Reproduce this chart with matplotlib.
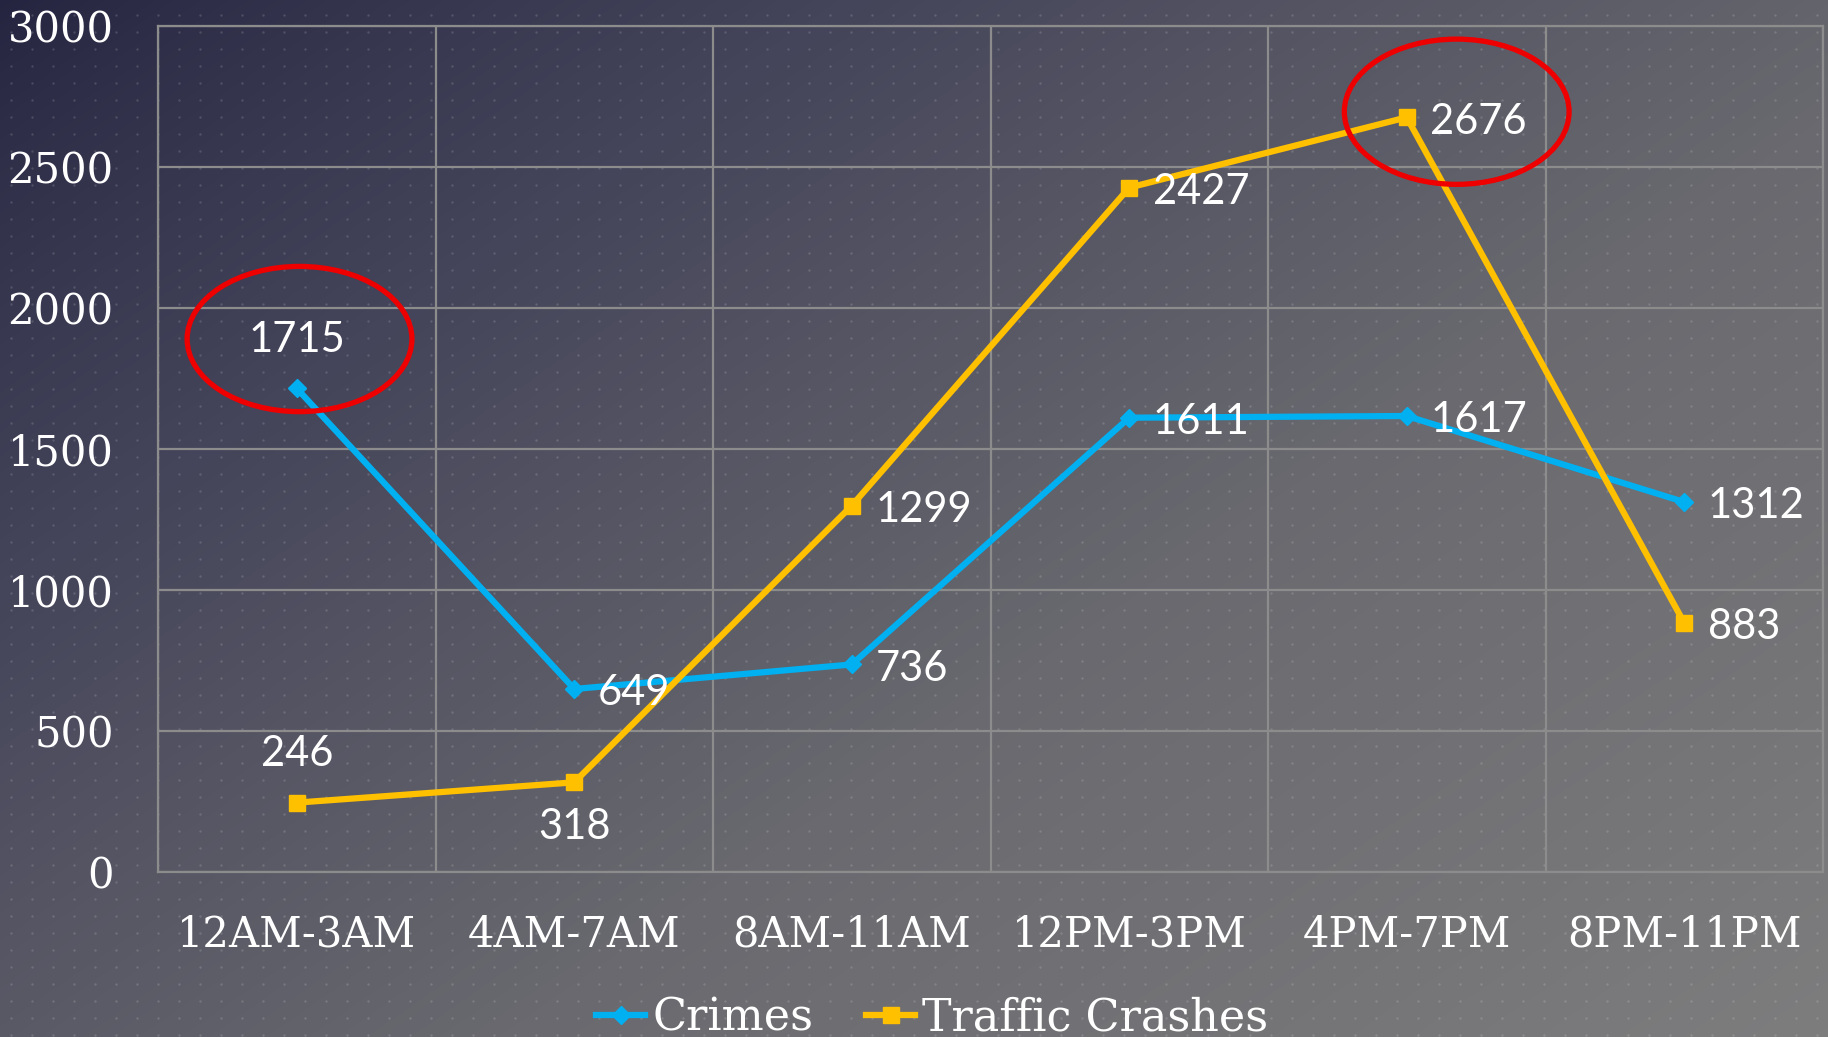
import numpy as np
import matplotlib
matplotlib.use("Agg")
import matplotlib.pyplot as plt
from matplotlib.patches import Ellipse
from matplotlib.colors import LinearSegmentedColormap

periods = ['12AM-3AM', '4AM-7AM', '8AM-11AM', '12PM-3PM', '4PM-7PM', '8PM-11PM']
crimes = [1715, 649, 736, 1611, 1617, 1312]
crashes = [246, 318, 1299, 2427, 2676, 883]
yticks = [0, 500, 1000, 1500, 2000, 2500, 3000]

# label placement per point: 'r' right, 'u' above, 'd' below
crime_pos = ['u', 'r', 'r', 'r', 'r', 'r']
crash_pos = ['u', 'd', 'r', 'r', 'r', 'r']

# highlighted points (series, index) and ellipse shift from the point
highlights = [(crimes, 0, 0.01, 175), (crashes, 4, 0.18, 20)]

blue = '#00B0F0'
gold = '#FFC000'
serif = 'DejaVu Serif'
sans = 'Lato'

fig = plt.figure(figsize=(18.28, 10.37), dpi=100)

# background gradient + dot texture
bg = fig.add_axes([0, 0, 1, 1], zorder=-10)
h, w = 1037, 1828
yy, xx = np.mgrid[0:h, 0:w]
t = (xx / w * 0.55 + yy / h * 0.45)
t = np.clip(t, 0, 1) ** 0.8
cmap = LinearSegmentedColormap.from_list('bg', ['#242440', '#44445a', '#69696f', '#7d7d7e'])
bg.imshow(t, cmap=cmap, aspect='auto', extent=[0, w, h, 0], vmin=0, vmax=1)
dx, dy = np.meshgrid(np.arange(11, w, 21), np.arange(15, h, 17))
bg.scatter(dx.ravel(), dy.ravel(), s=3, c='white', alpha=0.15, linewidths=0)
bg.set_xlim(0, w)
bg.set_ylim(h, 0)
bg.axis('off')

ax = fig.add_axes([158 / 1828, 165 / 1037, 1665 / 1828, 846 / 1037])
ax.set_facecolor('none')
x = np.arange(len(periods))

ax.plot(x, crimes, color=blue, lw=4.5, marker='D', ms=9, label='Crimes', zorder=3)
ax.plot(x, crashes, color=gold, lw=4.5, marker='s', ms=11, label='Traffic Crashes', zorder=3)

ax.set_xlim(-0.5, len(periods) - 0.5)
ax.set_ylim(0, 3000)
ax.set_yticks(yticks)
ax.set_xticks(x)
ax.set_xticklabels(periods, fontfamily=serif, fontsize=30, color='white')
ax.set_yticklabels([str(v) for v in yticks], fontfamily=serif, fontsize=30, color='white')
ax.set_xticks(np.arange(-0.5, len(periods)), minor=True)
ax.tick_params(axis='both', which='both', length=0)
ax.tick_params(axis='x', pad=30)
ax.tick_params(axis='y', pad=32)
ax.grid(True, axis='y', color='#8c8c8c', lw=1.6)
ax.grid(True, axis='x', which='minor', color='#8c8c8c', lw=1.6)
for s in ax.spines.values():
    s.set_color('#8c8c8c')
    s.set_linewidth(1.6)


def put_labels(vals, pos):
    for i, (v, p) in enumerate(zip(vals, pos)):
        if p == 'r':
            off, ha = (17, -3), 'left'
        elif p == 'u':
            off, ha = (0, 35), 'center'
        else:
            off, ha = (0, -32), 'center'
        ax.annotate(str(v), (i, v), xytext=off, textcoords='offset points',
                    ha=ha, va='center', fontsize=30, color='white', fontfamily=sans, zorder=5)


put_labels(crimes, crime_pos)
put_labels(crashes, crash_pos)

for series, i, sx, sy in highlights:
    ax.add_patch(Ellipse((i + sx, series[i] + sy), 0.81, 515, fill=False,
                         edgecolor='#EE0000', lw=3.8, zorder=6, clip_on=False))

leg = fig.legend(loc='center', bbox_to_anchor=(0.51, 0.018), ncol=2, frameon=False,
                 prop={'family': serif, 'size': 32}, labelcolor='white',
                 handlelength=1.1, handletextpad=0.15, columnspacing=1.2)

fig.savefig('out.png', dpi=100)
